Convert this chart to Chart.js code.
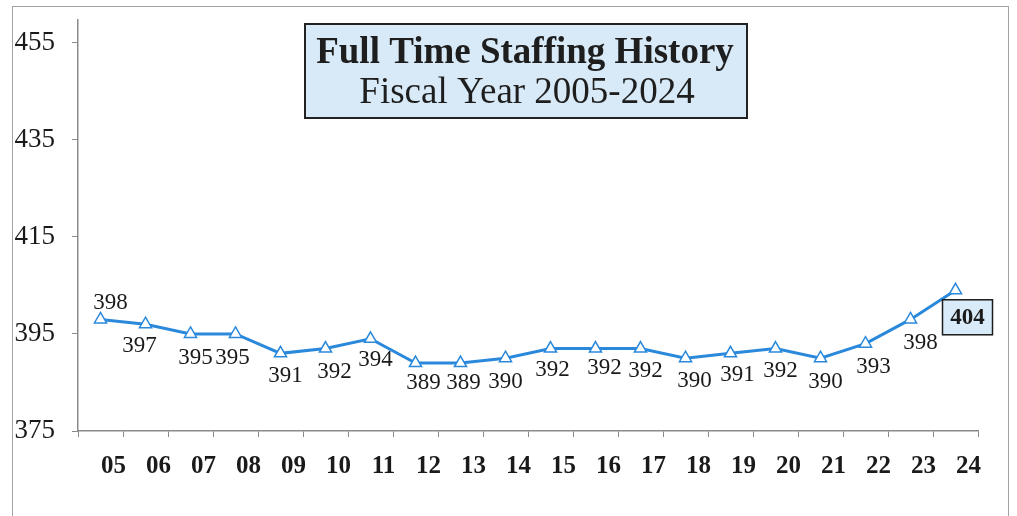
<!DOCTYPE html>
<html>
<head>
<meta charset="utf-8">
<title>Full Time Staffing History</title>
<script src="https://cdn.jsdelivr.net/npm/chart.js@4.4.1/dist/chart.umd.min.js"></script>
<style>
  html, body { margin: 0; padding: 0; background: #ffffff; }
  #wrap { position: relative; width: 1017px; height: 516px; overflow: hidden; }
  #frame {
    position: absolute; left: 12px; top: 6px; width: 997px; height: 560px;
    border: 1.5px solid #a3a3a3; box-sizing: border-box;
  }
  canvas { position: absolute; left: 0; top: 0; }
</style>
</head>
<body>
<div id="wrap">
  <div id="frame"></div>
  <canvas id="chart" width="1017" height="516"></canvas>
</div>
<script>
// Fiscal years (two-digit) and full-time staff counts
const years = ['05','06','07','08','09','10','11','12','13','14','15','16','17','18','19','20','21','22','23','24'];
const staff = [398, 397, 395, 395, 391, 392, 394, 389, 389, 390, 392, 392, 392, 390, 391, 392, 390, 393, 398, 404];
const yTicks = [375, 395, 415, 435, 455];

const titleLines = ['Full Time Staffing History', 'Fiscal Year 2005-2024'];

// Where each value label sits relative to its point (px)
const labelShift = [
  [10, -17], [-6, 21], [5, 23], [-3, 23], [5, 22], [9, 22], [5, 20], [8, 19], [3, 19], [0, 23],
  [2, 20], [9, 18], [5, 21], [9, 22], [7, 21], [5, 21], [5, 23], [8, 22], [10, 23], [12, 27]
];

const SERIF = '"Liberation Serif", "Times New Roman", serif';
const BLUE = '#2b89dc';

// Value labels; the latest year is boxed
const valueLabels = {
  id: 'valueLabels',
  afterDatasetsDraw(chart) {
    const ctx = chart.ctx;
    const meta = chart.getDatasetMeta(0);
    const last = staff.length - 1;
    ctx.save();
    ctx.textAlign = 'center';
    ctx.textBaseline = 'middle';
    meta.data.forEach((pt, i) => {
      const x = pt.x + labelShift[i][0];
      const y = pt.y + labelShift[i][1];
      const txt = String(staff[i]);
      if (i === last) {
        ctx.font = 'bold 23px ' + SERIF;
        const w = 50, h = 35;
        ctx.fillStyle = '#d9ebf8';
        ctx.fillRect(x - w / 2, y - h / 2, w, h);
        ctx.lineWidth = 1.5;
        ctx.strokeStyle = '#1c1c1c';
        ctx.strokeRect(x - w / 2, y - h / 2, w, h);
      } else {
        ctx.font = '23px ' + SERIF;
      }
      ctx.fillStyle = '#1a1a1a';
      ctx.fillText(txt, x, y + 1);
    });
    ctx.restore();
  }
};

// Boxed two-line heading inside the plot
const headingBox = {
  id: 'headingBox',
  afterDraw(chart) {
    const ctx = chart.ctx;
    const left = 305, top = 24, w = 442, h = 94;
    ctx.save();
    ctx.fillStyle = '#d8eaf7';
    ctx.fillRect(left, top, w, h);
    ctx.lineWidth = 2;
    ctx.strokeStyle = '#222222';
    ctx.strokeRect(left, top, w, h);
    ctx.fillStyle = '#1e1e1e';
    ctx.textAlign = 'center';
    ctx.textBaseline = 'middle';
    const cx = left + w / 2 - 1;
    ctx.font = 'bold 37px ' + SERIF;
    ctx.fillText(titleLines[0], cx, top + 29);
    ctx.font = '37px ' + SERIF;
    ctx.fillText(titleLines[1], cx + 2, top + 69);
    ctx.restore();
  }
};

new Chart(document.getElementById('chart'), {
  type: 'line',
  data: {
    labels: years,
    datasets: [{
      data: staff,
      borderColor: BLUE,
      borderWidth: 3,
      tension: 0,
      pointStyle: 'triangle',
      pointRadius: 7,
      pointBorderWidth: 1.5,
      pointBorderColor: BLUE,
      pointBackgroundColor: '#ffffff'
    }]
  },
  options: {
    responsive: false,
    animation: false,
    events: [],
    layout: { padding: { left: 0, right: 39, top: 20, bottom: 0 } },
    plugins: {
      legend: { display: false },
      title: { display: false },
      tooltip: { enabled: false }
    },
    scales: {
      x: {
        type: 'category',
        offset: true,
        grid: {
          offset: true,
          drawOnChartArea: false,
          drawTicks: true,
          tickLength: 6,
          color: '#8a8a8a'
        },
        border: { color: '#8a8a8a', width: 1.5 },
        ticks: {
          color: '#1a1a1a',
          font: { family: SERIF, size: 25, weight: 'bold' },
          padding: 15,
          labelOffset: 13,
          maxRotation: 0,
          autoSkip: false
        },
        afterFit(scale) {
          scale.height = 85;
          scale.paddingLeft = 0;
          scale.paddingRight = 0;
        }
      },
      y: {
        min: 375,
        max: 459.7,
        afterBuildTicks(scale) { scale.ticks = yTicks.map(v => ({ value: v })); },
        grid: {
          drawOnChartArea: false,
          drawTicks: true,
          tickLength: 6,
          color: '#8a8a8a'
        },
        border: { color: '#8a8a8a', width: 1.5 },
        ticks: {
          color: '#1a1a1a',
          font: { family: SERIF, size: 27 },
          padding: 17
        },
        afterFit(scale) {
          scale.width = 78;
          scale.paddingTop = 0;
          scale.paddingBottom = 0;
        }
      }
    }
  },
  plugins: [valueLabels, headingBox]
});
</script>
</body>
</html>
